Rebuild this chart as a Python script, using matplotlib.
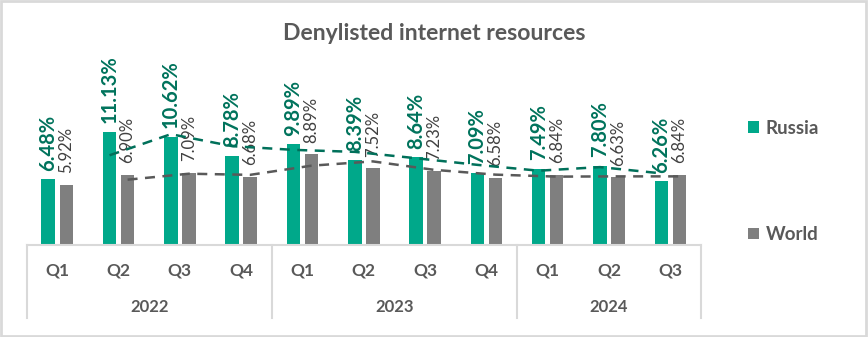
import numpy as np
import matplotlib
matplotlib.use('Agg')
import matplotlib.pyplot as plt
from matplotlib.patches import Rectangle

plt.rcParams['font.family'] = ['Lato', 'DejaVu Sans']

# --- data ---
quarters = ['Q1', 'Q2', 'Q3', 'Q4', 'Q1', 'Q2', 'Q3', 'Q4', 'Q1', 'Q2', 'Q3']
years = ['2022', '2023', '2024']
year_sizes = [4, 4, 3]
russia = [6.48, 11.13, 10.62, 8.78, 9.89, 8.39, 8.64, 7.09, 7.49, 7.80, 6.26]
world = [5.92, 6.90, 7.09, 6.68, 8.89, 7.52, 7.23, 6.58, 6.84, 6.63, 6.84]

# --- colours ---
c_russia = '#00A88A'
c_russia_txt = '#00735C'
c_world = '#7F7F7F'
c_world_txt = '#404040'
c_axis = '#D9D9D9'
c_text = '#595959'

W, H = 868, 337
fig = plt.figure(figsize=(W / 100, H / 100), dpi=100)
# axes in pixel terms: left 26.6, right 701, baseline 245, top 45
ax = fig.add_axes([26.6 / W, (H - 245) / H, (701 - 26.6) / W, 200 / H])

x = np.arange(len(quarters))
off = 0.147
bw = 0.22
ax.bar(x - off, russia, bw, color=c_russia, label='Russia', zorder=2)
ax.bar(x + off, world, bw, color=c_world, label='World', zorder=2)

ax.set_xlim(-0.5, len(quarters) - 0.5)
ax.set_ylim(0, 200 / 10.19)

# value labels
for xi, v in zip(x, russia):
    ax.annotate(f'{v:.2f}%', (xi - off, v), xytext=(0, 6), textcoords='offset points',
                rotation=90, ha='center', va='bottom', fontsize=14.5, fontweight='bold',
                color=c_russia_txt, annotation_clip=False, zorder=3)
for xi, v in zip(x, world):
    ax.annotate(f'{v:.2f}%', (xi + off, v), xytext=(0, 8.5), textcoords='offset points',
                rotation=90, ha='center', va='bottom', fontsize=12,
                color=c_world_txt, annotation_clip=False, zorder=3)

# 2-period moving average trendlines
r = np.array(russia)
w = np.array(world)
ma_r = (r[1:] + r[:-1]) / 2
ma_w = (w[1:] + w[:-1]) / 2
ax.plot(x[1:] - off, ma_r, ls=(0, (4, 3)), lw=1.8, color='#00705A', zorder=4)
ax.plot(x[1:] + off, ma_w, ls=(0, (4, 3)), lw=1.8, color='#595959', zorder=4)

# axes styling
for s in ['left', 'right', 'top']:
    ax.spines[s].set_visible(False)
ax.spines['bottom'].set_color(c_axis)
ax.spines['bottom'].set_linewidth(1.5)
ax.set_yticks([])
ax.set_xticks([])

# multi-level category axis
trans = ax.get_xaxis_transform()
bottom = -73 / 200
for xi, q in zip(x, quarters):
    ax.text(xi, -25 / 200, q, transform=trans, ha='center', va='center',
            fontsize=12.5, fontweight='bold', color=c_text)
start = -0.5
edges = [start]
for yr, n in zip(years, year_sizes):
    ax.text(start + n / 2, -62 / 200, yr, transform=trans, ha='center', va='center',
            fontsize=12, fontweight='bold', color=c_text)
    start += n
    edges.append(start)
for e in edges:
    ax.plot([e, e], [0, bottom], transform=trans, color=c_axis, lw=1.5, clip_on=False)

# title
fig.text(434 / W, 1 - 34 / H, 'Denylisted internet resources', ha='center', va='center',
         fontsize=16.6, fontweight='bold', color=c_text)

# legend
leg = fig.legend(loc='upper left', bbox_to_anchor=(748 / W, 1 - 120 / H), frameon=False,
                 fontsize=13.5, labelspacing=4.75, handlelength=0.6, handleheight=0.6,
                 handletextpad=0.35, borderpad=0, borderaxespad=0)
for t in leg.get_texts():
    t.set_color(c_text)
    t.set_fontweight('bold')

# figure border
fig.patches.append(Rectangle((0.001, 0.002), 0.997, 0.995, transform=fig.transFigure,
                             fill=False, edgecolor=c_axis, lw=2))

fig.savefig('out.png', dpi=100)
